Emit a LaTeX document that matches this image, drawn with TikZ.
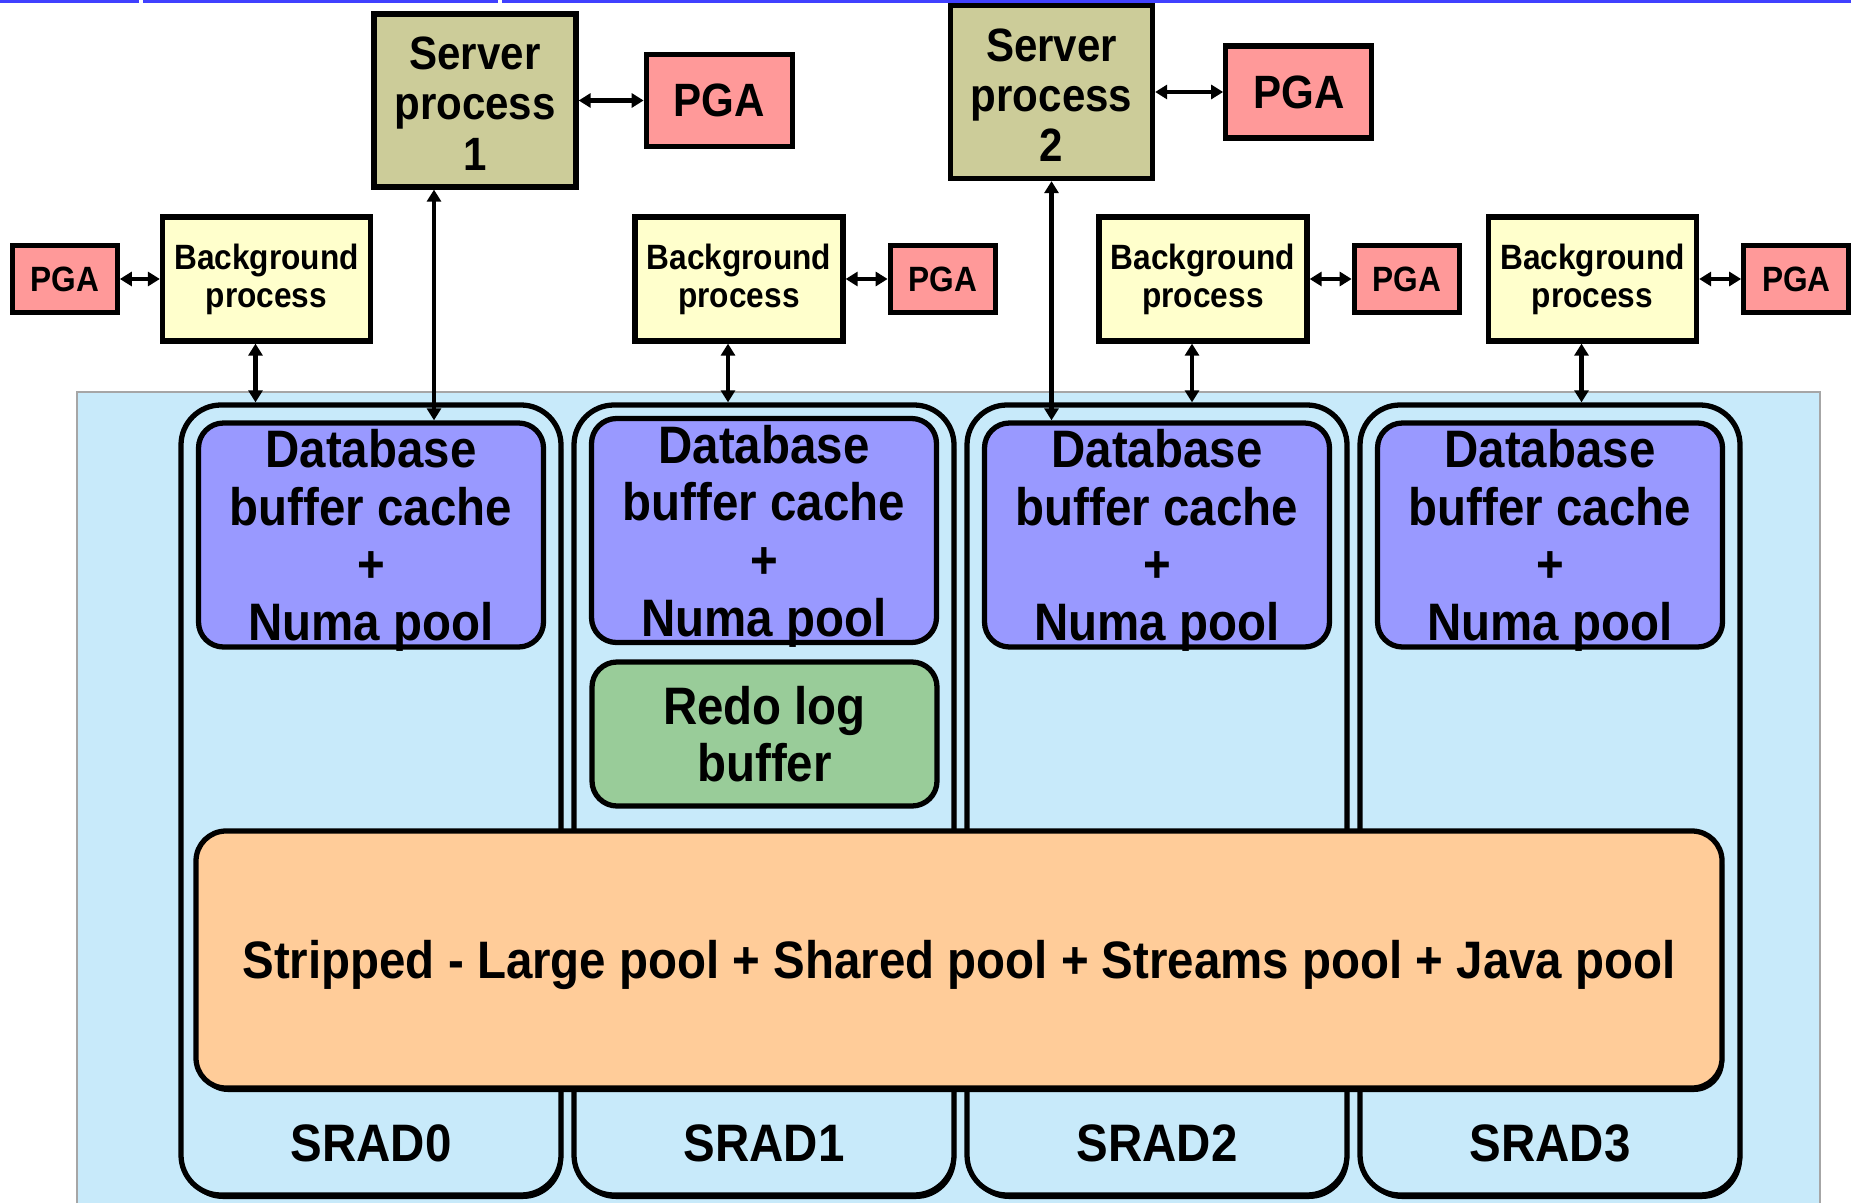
\documentclass[tikz,border=0pt]{standalone}
\usepackage{fontspec}
\setmainfont{Liberation Sans}[FakeStretch=0.9]
\usetikzlibrary{positioning,arrows.meta,shadows}

\definecolor{panelblue}{RGB}{200,234,250}
\definecolor{serverolive}{RGB}{204,204,153}
\definecolor{pgared}{RGB}{255,153,153}
\definecolor{bgyellow}{RGB}{255,255,204}
\definecolor{cacheblue}{RGB}{153,153,255}
\definecolor{redogreen}{RGB}{153,204,153}
\definecolor{poolorange}{RGB}{255,204,153}
\definecolor{slideblue}{RGB}{64,64,255}

\newcommand{\bigtext}{\bfseries\fontsize{15}{16.4}\selectfont}

\tikzset{
    box/.style={draw, line width=1.5pt, align=center, inner sep=0pt},
    server/.style={box, fill=serverolive, minimum width=2.02cm, minimum height=1.73cm,
        font=\bfseries\fontsize{13.3}{14.3}\selectfont},
    pga/.style={box, fill=pgared, minimum width=1.46cm, minimum height=0.92cm,
        font=\bfseries\fontsize{13.3}{14.3}\selectfont},
    smallpga/.style={box, fill=pgared, minimum width=1.05cm, minimum height=0.67cm,
        font=\bfseries\fontsize{10}{10.8}\selectfont},
    bgproc/.style={box, fill=bgyellow, minimum width=2.08cm, minimum height=1.24cm,
        font=\bfseries\fontsize{10}{10.8}\selectfont},
    srad/.style={box, fill=panelblue, rounded corners=4mm, minimum width=3.8cm, minimum height=7.9cm,
        drop shadow={shadow xshift=0.2mm, shadow yshift=-0.4mm, fill=black, opacity=1}},
    cachebox/.style={box, fill=cacheblue, rounded corners=2.5mm, minimum width=3.45cm, minimum height=2.24cm,
        text depth=0pt, font=\bigtext},
    redobox/.style={box, fill=redogreen, rounded corners=2.5mm, minimum width=3.45cm, minimum height=1.44cm,
        font=\bigtext},
    poolbox/.style={box, fill=poolorange, rounded corners=3mm, minimum width=15.26cm, minimum height=2.57cm,
        font=\bigtext, drop shadow={shadow xshift=0.2mm, shadow yshift=-0.4mm, fill=black, opacity=1}},
    sradlabel/.style={font=\bigtext},
    link/.style={line width=1.4pt, >={Triangle[length=1.2mm,width=1.4mm]}, <->},
}

% one SRAD: outline, its buffer cache and the label underneath
\newcommand{\sradcolumn}[3]{
    \node[srad] (srad#1) at (#2,4.03) {};
    \node[cachebox] (db#1) at (#2,#3) {Database\\buffer cache\\+\\Numa pool};
    \node[sradlabel] (lbl#1) at (#2,0.60) {SRAD#1};
}

\begin{document}
\begin{tikzpicture}
    \useasboundingbox (0,0) rectangle (18.51,12.03);

    % slide rule along the top
    \draw[slideblue, line width=0.6mm] (0,12.03) -- (1.39,12.03);
    \draw[slideblue, line width=0.6mm] (1.43,12.03) -- (4.98,12.03);
    \draw[slideblue, line width=0.6mm] (5.02,12.03) -- (18.51,12.03);

    % shared memory panel
    \fill[panelblue] (0.77,0) rectangle (18.20,8.11);
    \draw[gray!70, line width=0.4pt] (0.77,0) -- (0.77,8.11) -- (18.20,8.11) -- (18.20,0);

    \sradcolumn{0}{3.71}{6.68}
    \sradcolumn{1}{7.64}{6.725}
    \sradcolumn{2}{11.57}{6.68}
    \sradcolumn{3}{15.50}{6.68}

    \node[redobox] (redo) at (7.645,4.69) {Redo log\\buffer};
    \node[poolbox] (pool) at (9.59,2.435) {\rule{0pt}{5mm}Stripped - Large pool + Shared pool + Streams pool + Java pool};

    % server processes
    \node[server] (sp1) at (4.75,11.025) {\rule{0pt}{3.9mm}Server\\process\\1};
    \node[pga, right=0.65cm of sp1] (pga1) {PGA};
    \node[server] (sp2) at (10.515,11.11) {\rule{0pt}{3.9mm}Server\\process\\2};
    \node[pga, right=0.68cm of sp2] (pga2) {PGA};

    % background processes
    \node[bgproc] (bg0) at (2.665,9.24) {Background\\process};
    \node[smallpga, left=0.40cm of bg0] (bgpga0) {PGA};
    \node[bgproc] (bg1) at (7.39,9.24) {Background\\process};
    \node[smallpga, right=0.42cm of bg1] (bgpga1) {PGA};
    \node[bgproc] (bg2) at (12.03,9.24) {Background\\process};
    \node[smallpga, right=0.42cm of bg2] (bgpga2) {PGA};
    \node[bgproc] (bg3) at (15.925,9.24) {Background\\process};
    \node[smallpga, right=0.42cm of bg3] (bgpga3) {PGA};

    % links
    \draw[link] (sp1) -- (pga1);
    \draw[link] (sp2) -- (pga2);
    \draw[link] (bgpga0) -- (bg0);
    \draw[link] (bg1) -- (bgpga1);
    \draw[link] (bg2) -- (bgpga2);
    \draw[link] (bg3) -- (bgpga3);

    \coordinate (tap0) at ([xshift=-1.1mm]bg0.south);
    \coordinate (tap1) at ([xshift=-1.1mm]bg1.south);
    \coordinate (tap2) at ([xshift=-1.1mm]bg2.south);
    \coordinate (tap3) at ([xshift=-1.1mm]bg3.south);
    \draw[link] (tap0) -- (tap0 |- srad0.north);
    \draw[link] (tap1) -- (tap1 |- srad1.north);
    \draw[link] (tap2) -- (tap2 |- srad2.north);
    \draw[link] (tap3) -- (tap3 |- srad3.north);

    \coordinate (tapsp1) at ([xshift=-4.1mm]sp1.south);
    \draw[link] (tapsp1) -- (tapsp1 |- db0.north);
    \draw[link] (sp2.south) -- (sp2.south |- db2.north);
\end{tikzpicture}
\end{document}
